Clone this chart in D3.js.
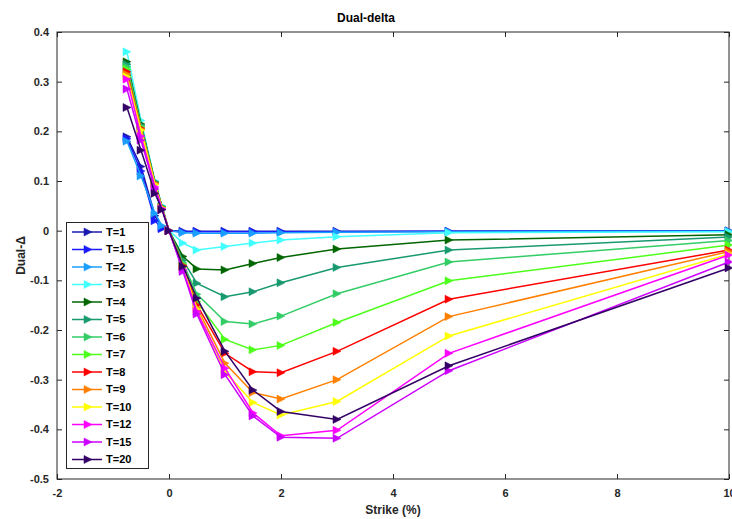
<!DOCTYPE html>
<html>
<head>
<meta charset="utf-8">
<script src="https://cdn.jsdelivr.net/npm/d3@7"></script>
<style>
  body { margin: 0; background: #fff; }
  text { font-family: "Liberation Sans", Arial, sans-serif; font-weight: bold; }
</style>
</head>
<body>
<svg id="chart" width="732" height="519"></svg>
<script>
const strikes = [-0.75, -0.5, -0.25, -0.125, 0, 0.25, 0.5, 1, 1.5, 2, 3, 5, 10];

const maturities = ["T=1", "T=1.5", "T=2", "T=3", "T=4", "T=5", "T=6", "T=7", "T=8", "T=9", "T=10", "T=12", "T=15", "T=20"];

const colors = ["#1a1ab0", "#1a1aff", "#1a9eff", "#40ffff", "#006600", "#199970", "#33cc66",
  "#4dff1a", "#ff0000", "#ff8000", "#ffff00", "#ff00ff", "#cc00ff", "#330066"];

const dualDelta = [
  [0.189, 0.129, 0.030, 0.006, 0, -0.001, -0.001, -0.001, -0.001, -0.001, -0.001, -0.001, 0],
  [0.185, 0.120, 0.020, 0.004, 0, -0.002, -0.002, -0.002, -0.002, -0.002, -0.002, -0.001, -0.001],
  [0.180, 0.110, 0.035, 0.010, 0, -0.004, -0.005, -0.005, -0.005, -0.004, -0.003, -0.002, -0.001],
  [0.360, 0.222, 0.100, 0.050, 0, -0.025, -0.039, -0.032, -0.025, -0.019, -0.012, -0.004, -0.002],
  [0.340, 0.215, 0.098, 0.048, 0, -0.052, -0.077, -0.079, -0.066, -0.054, -0.037, -0.019, -0.008],
  [0.335, 0.212, 0.097, 0.048, 0, -0.060, -0.106, -0.133, -0.123, -0.105, -0.074, -0.039, -0.013],
  [0.330, 0.210, 0.096, 0.047, 0, -0.065, -0.128, -0.183, -0.188, -0.172, -0.127, -0.063, -0.020],
  [0.325, 0.208, 0.095, 0.047, 0, -0.068, -0.143, -0.219, -0.240, -0.231, -0.185, -0.101, -0.029],
  [0.320, 0.206, 0.095, 0.046, 0, -0.070, -0.150, -0.247, -0.284, -0.286, -0.243, -0.138, -0.039],
  [0.315, 0.204, 0.094, 0.046, 0, -0.072, -0.155, -0.267, -0.326, -0.339, -0.300, -0.173, -0.042],
  [0.310, 0.202, 0.093, 0.045, 0, -0.074, -0.158, -0.284, -0.346, -0.371, -0.344, -0.212, -0.047],
  [0.305, 0.190, 0.088, 0.044, 0, -0.078, -0.163, -0.277, -0.367, -0.413, -0.402, -0.247, -0.049],
  [0.285, 0.182, 0.084, 0.043, 0, -0.082, -0.168, -0.290, -0.373, -0.416, -0.418, -0.282, -0.063],
  [0.248, 0.162, 0.075, 0.042, 0, -0.072, -0.136, -0.243, -0.321, -0.364, -0.380, -0.272, -0.075],
];

const xTicks = [-2, 0, 2, 4, 6, 8, 10];
const yTicks = [-0.5, -0.4, -0.3, -0.2, -0.1, 0, 0.1, 0.2, 0.3, 0.4];

const margin = { top: 32, right: 3, bottom: 40, left: 57 };
const width = 732, height = 519;

const svg = d3.select("#chart");

const x = d3.scaleLinear().domain([-2, 10]).range([margin.left, width - margin.right]);
const y = d3.scaleLinear().domain([-0.5, 0.4]).range([height - margin.bottom, margin.top]);

const axisColor = "#262626";
const tickLen = 5;

// box
svg.append("rect")
  .attr("x", x(-2))
  .attr("y", y(0.4))
  .attr("width", x(10) - x(-2))
  .attr("height", y(-0.5) - y(0.4))
  .attr("fill", "none")
  .attr("stroke", axisColor)
  .attr("stroke-width", 1);

// plain hyphen for negatives, like the original
const fmtY = d => d === 0 ? "0" : d.toFixed(1);
const fmtX = d => String(d);

const styleAxis = g => {
  g.select(".domain").remove();
  g.selectAll(".tick line").attr("stroke", axisColor);
  g.selectAll(".tick text").attr("fill", axisColor).style("font-size", "11px");
};

svg.append("g")
  .attr("transform", `translate(0,${y(-0.5)})`)
  .call(d3.axisBottom(x).tickValues(xTicks).tickSizeInner(-tickLen).tickSizeOuter(0).tickPadding(10).tickFormat(fmtX))
  .call(styleAxis);

svg.append("g")
  .attr("transform", `translate(0,${y(0.4)})`)
  .call(d3.axisTop(x).tickValues(xTicks).tickSizeInner(-tickLen).tickSizeOuter(0).tickFormat(""))
  .call(styleAxis);

svg.append("g")
  .attr("transform", `translate(${x(-2)},0)`)
  .call(d3.axisLeft(y).tickValues(yTicks).tickSizeInner(-tickLen).tickSizeOuter(0).tickPadding(8).tickFormat(fmtY))
  .call(styleAxis);

svg.append("g")
  .attr("transform", `translate(${x(10)},0)`)
  .call(d3.axisRight(y).tickValues(yTicks).tickSizeInner(-tickLen).tickSizeOuter(0).tickFormat(""))
  .call(styleAxis);

// titles
svg.append("text")
  .text("Dual-delta")
  .attr("x", 366)
  .attr("y", 22)
  .attr("text-anchor", "middle")
  .attr("fill", "#000")
  .style("font-size", "12px");

svg.append("text")
  .text("Strike (%)")
  .attr("x", (x(-2) + x(10)) / 2)
  .attr("y", 514)
  .attr("text-anchor", "middle")
  .attr("fill", axisColor)
  .style("font-size", "12px");

svg.append("text")
  .text("Dual-Δ")
  .attr("transform", `translate(25,${(y(0.4) + y(-0.5)) / 2}) rotate(-90)`)
  .attr("text-anchor", "middle")
  .attr("fill", axisColor)
  .style("font-size", "12px");

// triangle marker pointing right
const tri = d3.symbol().type({
  draw(ctx, size) {
    const r = Math.sqrt(size) / 2;
    ctx.moveTo(r, 0);
    ctx.lineTo(-r, -r);
    ctx.lineTo(-r, r);
    ctx.closePath();
  }
}).size(64);

const line = d3.line().x((d, i) => x(strikes[i])).y(d => y(d));

const series = svg.append("g")
  .selectAll("g")
  .data(dualDelta)
  .join("g");

series.append("path")
  .attr("d", d => line(d))
  .attr("fill", "none")
  .attr("stroke", (d, i) => colors[i])
  .attr("stroke-width", 1.5);

series.each(function (d, si) {
  d3.select(this).selectAll("path.m")
    .data(d)
    .join("path")
    .attr("class", "m")
    .attr("d", tri)
    .attr("transform", (v, i) => `translate(${x(strikes[i])},${y(v)})`)
    .attr("fill", colors[si])
    .attr("stroke", colors[si])
    .attr("stroke-width", 0.5);
});

// legend
const legend = svg.append("g").attr("transform", "translate(66,222)");
const rowH = 17.5;

legend.append("rect")
  .attr("x", 0.5)
  .attr("y", 0.5)
  .attr("width", 82)
  .attr("height", 246)
  .attr("fill", "#fff")
  .attr("stroke", axisColor)
  .attr("stroke-width", 1);

const item = legend.selectAll("g.item")
  .data(maturities)
  .join("g")
  .attr("class", "item")
  .attr("transform", (d, i) => `translate(0,${10 + i * rowH})`);

item.append("line")
  .attr("x1", 6)
  .attr("x2", 36)
  .attr("stroke", (d, i) => colors[i])
  .attr("stroke-width", 1.5);

item.append("path")
  .attr("d", tri)
  .attr("transform", "translate(22,0)")
  .attr("fill", (d, i) => colors[i])
  .attr("stroke", (d, i) => colors[i])
  .attr("stroke-width", 0.5);

item.append("text")
  .text(d => d)
  .attr("x", 40)
  .attr("dy", "0.35em")
  .attr("fill", "#000")
  .style("font-size", "11px");
</script>
</body>
</html>
